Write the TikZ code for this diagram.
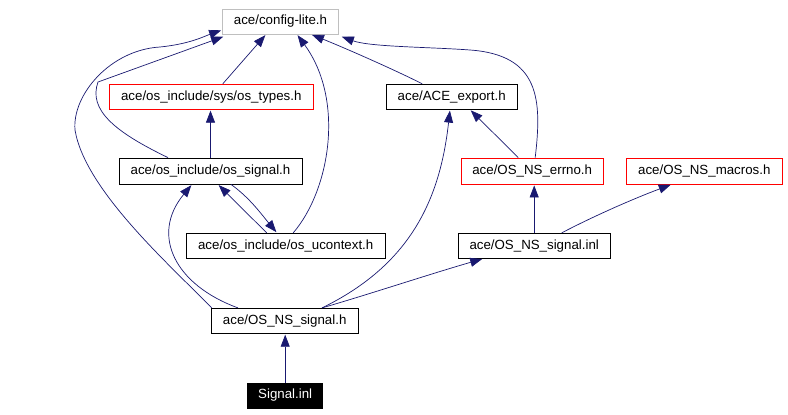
\documentclass[tikz,border=0pt]{standalone}
\usepackage{fontspec}
\setmainfont{Liberation Sans}
\usetikzlibrary{arrows.meta}
\definecolor{depblue}{RGB}{25,25,112}
\definecolor{boxgray}{RGB}{191,191,191}

\begin{document}
\begin{tikzpicture}[x=1pt,y=-1pt,
    filebox/.style={draw=black,line width=0.8pt,minimum height=25pt,inner sep=0pt,
        font=\fontsize{13.3}{16}\selectfont},
    redbox/.style={filebox,draw=red},
    graybox/.style={filebox,draw=boxgray},
    thisbox/.style={filebox,fill=black,text=white},
    dep/.style={draw=depblue,line width=0.7pt,-{Triangle[length=12pt,width=9pt]},shorten >=1pt}]

\useasboundingbox (0,0) rectangle (788,415);

% ===== Các tệp =====
\node[graybox,minimum width=116pt] (cfg) at (280.5,21.5) {ace/config-lite.h};
\node[redbox,minimum width=204pt] (types) at (211.3,96.7) {ace/os\_include/sys/os\_types.h};
\node[filebox,minimum width=131pt] (export) at (451.7,96.7) {ace/ACE\_export.h};
\node[filebox,minimum width=183pt,minimum height=26pt] (ossig) at (210.5,171) {ace/os\_include/os\_signal.h};
\node[redbox,minimum width=142pt,minimum height=26pt] (errno) at (532.2,171) {ace/OS\_NS\_errno.h};
\node[redbox,minimum width=156.7pt,minimum height=26pt] (macros) at (704.3,171) {ace/OS\_NS\_macros.h};
\node[filebox,minimum width=199.3pt] (ucontext) at (285.7,245.8) {ace/os\_include/os\_ucontext.h};
\node[filebox,minimum width=151.7pt] (inl) at (534.2,245.8) {ace/OS\_NS\_signal.inl};
\node[filebox,minimum width=147.3pt] (sigh) at (284.7,320.8) {ace/OS\_NS\_signal.h};
\node[thisbox,minimum width=75pt] (signal) at (285.2,395.5) {Signal.inl};

% ===== Lên ace/config-lite.h =====
\draw[dep] ([xshift=11.5pt]types.north) -- ([xshift=-14.5pt]cfg.south);
\draw[dep] ([xshift=-29.5pt]export.north) .. controls (395,70) and (345,48) .. ([xshift=30.5pt]cfg.south);
\draw[dep] ([xshift=3pt]errno.north) .. controls (542,100) and (540,55) .. (470,50)
    .. controls (430,47) and (370,47) .. ([xshift=2pt,yshift=-2pt]cfg.south east);
\draw[dep] ([xshift=-42.5pt]ossig.north) .. controls (115,132) and (88,110) .. (98,82)
    -- ([xshift=2pt,yshift=-2pt]cfg.south west);
\draw[dep] ([xshift=1pt]sigh.north west) .. controls (170,265) and (85,190) .. (75,130)
    .. controls (72,95) and (110,50) .. (160,47) .. controls (190,44) and (205,36) .. ([yshift=-8.5pt]cfg.west);
\draw[dep] ([xshift=7.5pt]ucontext.north) .. controls (330,190) and (345,100) .. ([xshift=16.5pt]cfg.south);

% ===== Các phụ thuộc còn lại =====
\draw[dep] (ossig.north) -- (ossig.north |- types.south);
\draw[dep] ([xshift=-19pt]ucontext.north) -- ([xshift=7.5pt]ossig.south);
\draw[dep] ([xshift=20.5pt]ossig.south) .. controls (250,198) and (262,215) .. ([xshift=-8.7pt]ucontext.north);
\draw[dep] ([xshift=-46.7pt]sigh.north) .. controls (175,285) and (150,235) .. ([xshift=-18.5pt]ossig.south);
\draw[dep] ([xshift=37.3pt]sigh.north) .. controls (410,265) and (440,200) .. ([xshift=-1.7pt]export.south);
\draw[dep] ([xshift=-14pt]errno.north) -- ([xshift=18.3pt]export.south);
\draw[dep] (inl.north) -- (inl.north |- errno.south);
\draw[dep] ([xshift=27.5pt]inl.north) .. controls (590,218) and (630,200) .. ([xshift=-32.6pt]macros.south);
\draw[dep] ([xshift=37.3pt]sigh.north) .. controls (370,294) and (430,274) .. ([xshift=-51pt]inl.south);
\draw[dep] (signal.north) -- (signal.north |- sigh.south);

\end{tikzpicture}
\end{document}
